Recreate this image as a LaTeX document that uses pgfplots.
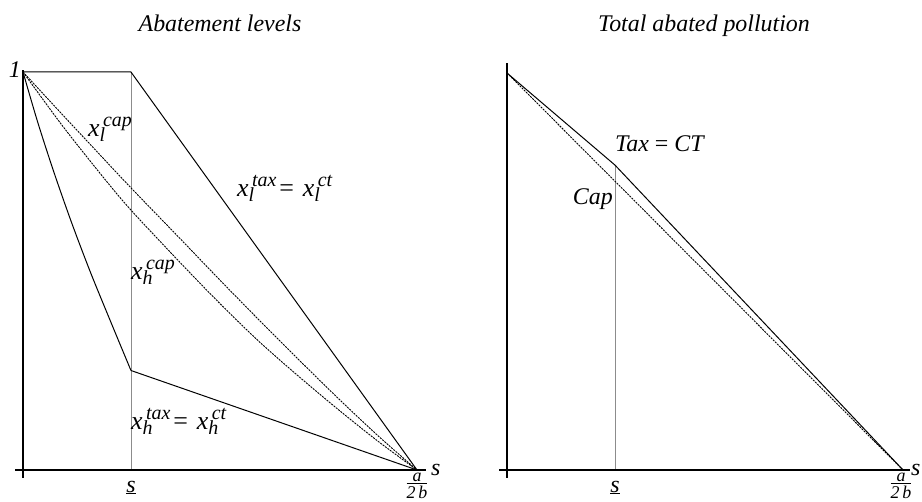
\documentclass[border=0pt]{standalone}
\usepackage{fontspec}
\setmainfont{Liberation Serif}
\usepackage{pgfplots}
\pgfplotsset{compat=1.18}

\newcommand{\ttl}{\fontsize{24}{26}\selectfont\itshape}
\newcommand{\lab}{\fontsize{24}{26}\selectfont\itshape}
\newcommand{\xlab}{\fontsize{26}{28}\selectfont\itshape}
\newcommand{\scr}{\fontsize{20}{22}\selectfont\itshape}
% x with a subscript and a superscript stacked after it
\newcommand{\xss}[2]{x\rlap{\raisebox{-0.4ex}{\scr #1}}\raisebox{0.85ex}{\scr\,#2}}
\newcommand{\eqs}{\hspace{3bp}{\upshape=}\hspace{9bp}}
% a over 2b, stacked tightly under the axis end
\newcommand{\frc}{\fontsize{18}{18}\selectfont\itshape\setbox0\hbox{2\,b}%
  \vbox{\hbox to\wd0{\hss a\hss}\kern1.6bp\hrule height 0.9bp\kern1.6bp\box0}}

\begin{document}
\begin{tikzpicture}
\useasboundingbox (0bp,0bp) rectangle (922bp,502bp);
\pgfplotsset{panel/.style={scale only axis, axis lines=none,
  xmin=0, xmax=1, ymin=0, ymax=1, clip=false, anchor=south west},
  axisline/.style={black, line width=1.8pt},
  solid line/.style={black, line width=1pt},
  cap line/.style={black, line width=0.9pt, dash pattern=on 2pt off 1pt},
  guide/.style={black!45, line width=0.8pt}}

% ---------- abatement levels ----------
\begin{axis}[panel, at={(23bp,32bp)}, width=394bp, height=398bp]
\addplot[guide] coordinates {(0.274,1) (0.274,0)};
\addplot[axisline] coordinates {(0,1.005) (0,-0.02)};
\addplot[axisline] coordinates {(-0.02,0) (1.023,0)};
% x_l under tax / cap-and-trade
\addplot[solid line] coordinates {(0,1) (0.274,1) (1,0)};
% x_h under tax / cap-and-trade
\addplot[solid line, smooth] coordinates {(0,1) (0.0373,0.874) (0.0782,0.749)
  (0.1228,0.623) (0.1711,0.497) (0.2228,0.372) (0.274,0.25)};
\addplot[solid line] coordinates {(0.274,0.25) (1,0)};
% x_l under cap
\addplot[cap line, smooth] coordinates {(0,1) (0.1,0.893) (0.2,0.787) (0.274,0.709)
  (0.4,0.58) (0.5,0.477) (0.6,0.376) (0.7,0.277) (0.8,0.18) (0.9,0.087) (1,0)};
% x_h under cap
\addplot[cap line, smooth] coordinates {(0,1) (0.1,0.865) (0.2,0.74) (0.274,0.653)
  (0.4,0.52) (0.5,0.418) (0.6,0.322) (0.7,0.235) (0.8,0.152) (0.9,0.073) (1,0)};
\end{axis}

% ---------- total abated pollution ----------
\begin{axis}[panel, at={(507bp,32bp)}, width=396bp, height=397bp]
\addplot[guide] coordinates {(0.2727,0.768) (0.2727,0)};
\addplot[axisline] coordinates {(0,1.025) (0,-0.02)};
\addplot[axisline] coordinates {(-0.02,0) (1.018,0)};
% tax = cap-and-trade
\addplot[solid line] coordinates {(0,1) (0.2727,0.768) (1,0)};
% cap
\addplot[cap line] coordinates {(0,1) (1,0)};
\end{axis}

% titles
\node[anchor=base, inner sep=0] at (220bp,470bp) {\ttl Abatement levels};
\node[anchor=base, inner sep=0] at (704bp,470bp) {\ttl Total abated pollution};

% axis labels, left
\node[anchor=base east, inner sep=0] at (21bp,424bp) {\lab 1};
\node[anchor=base, inner sep=0] at (131bp,10bp) {\lab\underline{s}};
\node[anchor=base west, inner sep=0] at (431bp,27bp) {\lab s};
\node[anchor=north, inner sep=0] at (417bp,29bp) {\frc};

% axis labels, right
\node[anchor=base, inner sep=0] at (615bp,10bp) {\lab\underline{s}};
\node[anchor=base west, inner sep=0] at (911bp,27bp) {\lab s};
\node[anchor=north, inner sep=0] at (901bp,29bp) {\frc};

% curve labels, left
\node[anchor=base west, inner sep=0] at (88bp,365bp) {\xlab\xss{l}{cap}};
\node[anchor=base west, inner sep=0] at (131bp,222bp) {\xlab\xss{h}{cap}};
\node[anchor=base west, inner sep=0] at (237bp,305bp) {\xlab\xss{l}{tax}\eqs\xss{l}{ct}};
\node[anchor=base west, inner sep=0] at (131bp,72bp) {\xlab\xss{h}{tax}\eqs\xss{h}{ct}};

% curve labels, right
\node[anchor=base west, inner sep=0] at (615bp,350bp) {\lab Tax {\upshape=} CT};
\node[anchor=base east, inner sep=0] at (613bp,297bp) {\lab Cap};
\end{tikzpicture}
\end{document}
